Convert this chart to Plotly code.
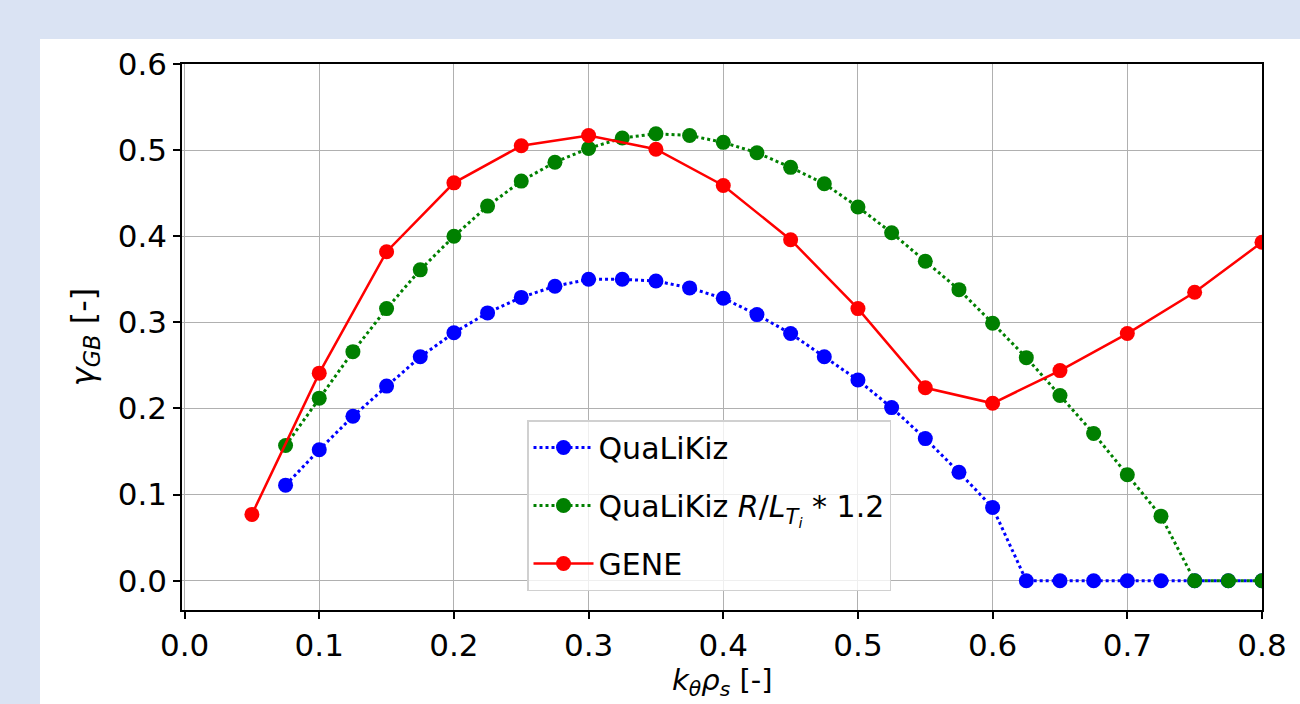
import plotly.graph_objects as go

# Data
x_qlk = [0.075, 0.1, 0.125, 0.15, 0.175, 0.2, 0.225, 0.25, 0.275, 0.3, 0.325, 0.35,
         0.375, 0.4, 0.425, 0.45, 0.475, 0.5, 0.525, 0.55, 0.575, 0.6, 0.625, 0.65,
         0.675, 0.7, 0.725, 0.75, 0.775, 0.8]
y_qlk = [0.111, 0.152, 0.191, 0.226, 0.260, 0.288, 0.311, 0.329, 0.342, 0.350, 0.350, 0.348,
         0.340, 0.328, 0.309, 0.287, 0.260, 0.233, 0.201, 0.165, 0.126, 0.085, 0.0, 0.0,
         0.0, 0.0, 0.0, 0.0, 0.0, 0.0]
y_qlk12 = [0.157, 0.212, 0.266, 0.316, 0.361, 0.400, 0.435, 0.464, 0.486, 0.502, 0.514, 0.519,
           0.517, 0.509, 0.497, 0.480, 0.461, 0.434, 0.404, 0.371, 0.338, 0.299, 0.259, 0.215,
           0.171, 0.123, 0.075, 0.0, 0.0, 0.0]
x_gene = [0.05, 0.1, 0.15, 0.2, 0.25, 0.3, 0.35, 0.4, 0.45, 0.5, 0.55, 0.6, 0.65, 0.7, 0.75, 0.8]
y_gene = [0.077, 0.241, 0.382, 0.462, 0.505, 0.517, 0.501, 0.459, 0.396, 0.316, 0.224, 0.206,
          0.244, 0.287, 0.335, 0.393]

names = ["QuaLiKiz",
         "QuaLiKiz <i>R</i>/<i>L</i><sub><i>T<sub>i</sub></i></sub> * 1.2",
         "GENE"]
x_ticks = [0.0, 0.1, 0.2, 0.3, 0.4, 0.5, 0.6, 0.7, 0.8]
y_ticks = [0.0, 0.1, 0.2, 0.3, 0.4, 0.5, 0.6]
x_title = "<i>k<sub>θ</sub>ρ<sub>s</sub></i> [-]"
y_title = "<i>γ<sub>GB</sub></i> [-]"

FONT = "DejaVu Sans"
W, H = 1300, 704
L, R, T, B = 182, 1262, 64, 610

fig = go.Figure()
fig.add_trace(go.Scatter(x=x_qlk, y=y_qlk, name=names[0], mode="lines+markers",
                         legendgroup="a",
                         line=dict(color="blue", width=3, dash="dot"),
                         marker=dict(color="blue", size=15)))
fig.add_trace(go.Scatter(x=x_qlk, y=y_qlk12, name=names[1], mode="lines+markers",
                         legendgroup="b",
                         line=dict(color="green", width=3, dash="dot"),
                         marker=dict(color="green", size=15)))
fig.add_trace(go.Scatter(x=x_gene, y=y_gene, name=names[2], mode="lines+markers",
                         legendgroup="c",
                         line=dict(color="red", width=2.5),
                         marker=dict(color="red", size=15)))

pw, ph = R - L, B - T
def px2x(p): return (p - L) / pw
def px2y(p): return (B - p) / ph

fig.add_shape(type="rect", xref="paper", yref="paper", layer="below",
              x0=px2x(40), x1=px2x(1305), y0=px2y(710), y1=px2y(39),
              fillcolor="white", line=dict(width=0))

fig.add_annotation(text=x_title, xref="paper", yref="paper",
                   x=px2x(722), y=px2y(703), xanchor="center", yanchor="bottom",
                   showarrow=False, font=dict(family=FONT, size=29, color="black"))

axis_common = dict(showline=True, linecolor="black", linewidth=1.5, mirror=True,
                   showgrid=True, gridcolor="#b0b0b0", gridwidth=1.2,
                   ticks="outside", ticklen=7, tickcolor="black", tickwidth=1.5,
                   zeroline=False, automargin=False,
                   tickfont=dict(family=FONT, size=31, color="black"))

fig.update_layout(
    width=W, height=H,
    margin=dict(l=L, r=W - R, t=T, b=H - B),
    paper_bgcolor="#dae3f3", plot_bgcolor="white",
    xaxis=dict(range=[-0.0019, 0.8], tickvals=x_ticks,
               ticktext=[f"{v:.1f}" for v in x_ticks],
               **axis_common),
    yaxis=dict(range=[-0.034, 0.6], tickvals=y_ticks,
               ticktext=[f"{v:.1f}" for v in y_ticks],
               title=dict(text=y_title,
                          font=dict(family=FONT, size=32, color="black"), standoff=14),
               **axis_common),
    legend=dict(x=px2x(527), y=px2y(420), xanchor="left", yanchor="top",
                bgcolor="rgba(255,255,255,0.8)", bordercolor="#d0d0d0", borderwidth=1.5,
                font=dict(family=FONT, size=30, color="black"),
                itemwidth=60, tracegroupgap=16),
    showlegend=True,
)

fig.write_html("out.html")
